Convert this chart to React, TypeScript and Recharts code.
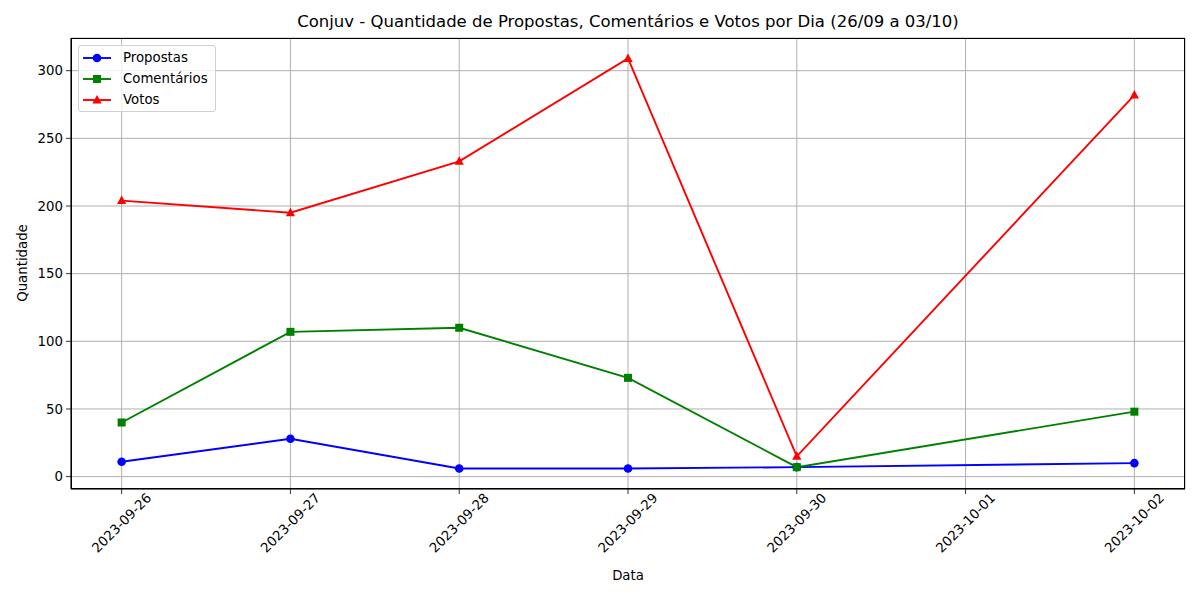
import React from 'react';
import { LineChart, Line, XAxis, YAxis, CartesianGrid } from 'recharts';

const dayLabels = ['2023-09-26', '2023-09-27', '2023-09-28', '2023-09-29', '2023-09-30', '2023-10-01', '2023-10-02'];
const dates = ['2023-09-26', '2023-09-27', '2023-09-28', '2023-09-29', '2023-09-30', '2023-10-02'];
const propostas = [11, 28, 6, 6, 7, 10];
const comentarios = [40, 107, 110, 73, 7, 48];
const votos = [204, 195, 233, 309, 15, 282];
const yTicks = [0, 50, 100, 150, 200, 250, 300];

const BLUE = '#0000ff';
const GREEN = '#008000';
const RED = '#ff0000';
const FONT = 'DejaVu Sans, sans-serif';
const LW = 1.9;

const dayIndex = (d: string) => {
  const base = Date.UTC(2023, 8, 26);
  const [y, m, dd] = d.split('-').map(Number);
  return Math.round((Date.UTC(y, m - 1, dd) - base) / 86400000);
};

const data = dates.map((d, i) => ({
  x: dayIndex(d),
  propostas: propostas[i],
  comentarios: comentarios[i],
  votos: votos[i],
}));

const Circle = (props: any) => {
  const { cx, cy } = props;
  if (cx == null || cy == null) return null;
  return <circle cx={cx} cy={cy} r={4.3} fill={BLUE} />;
};
const Square = (props: any) => {
  const { cx, cy } = props;
  if (cx == null || cy == null) return null;
  return <rect x={cx - 4} y={cy - 4} width={8} height={8} fill={GREEN} />;
};
const Triangle = (props: any) => {
  const { cx, cy } = props;
  if (cx == null || cy == null) return null;
  return <polygon points={`${cx},${cy - 5} ${cx + 4.6},${cy + 3.5} ${cx - 4.6},${cy + 3.5}`} fill={RED} />;
};

const XTick = (props: any) => {
  const { x, y, payload } = props;
  const cy = y + 27;
  return (
    <text
      x={x}
      y={cy}
      transform={`rotate(-45, ${x}, ${cy})`}
      textAnchor="middle"
      dominantBaseline="central"
      fontSize={13.3}
      fontFamily={FONT}
      fill="#000"
    >
      {dayLabels[payload.value]}
    </text>
  );
};

const legendItems = [
  { name: 'Propostas', color: BLUE, shape: 'circle' },
  { name: 'Comentários', color: GREEN, shape: 'square' },
  { name: 'Votos', color: RED, shape: 'triangle' },
];

const LegendBox = () => (
  <div
    style={{
      position: 'absolute',
      left: 78,
      top: 45,
      background: 'rgba(255,255,255,0.8)',
      border: '1px solid #d0d0d0',
      borderRadius: 3,
      padding: '1px 6px 1px 3px',
      fontFamily: FONT,
      fontSize: 13.3,
      width: 138,
      height: 67,
      boxSizing: 'border-box',
      textAlign: 'left',
      zIndex: 2,
    }}
  >
    {legendItems.map((it) => (
      <div key={it.name} style={{ display: 'flex', alignItems: 'center', height: 21 }}>
        <svg width={30} height={14} style={{ marginRight: 11, flex: 'none' }}>
          <line x1={1} y1={7} x2={29} y2={7} stroke={it.color} strokeWidth={LW} />
          {it.shape === 'circle' && <circle cx={15} cy={7} r={4.3} fill={it.color} />}
          {it.shape === 'square' && <rect x={11} y={3} width={8} height={8} fill={it.color} />}
          {it.shape === 'triangle' && <polygon points="15,2 19.6,10.5 10.4,10.5" fill={it.color} />}
        </svg>
        <span>{it.name}</span>
      </div>
    ))}
  </div>
);

export default function App() {
  return (
    <div style={{ position: 'absolute', left: 0, top: 0, width: 1200, height: 600, background: '#fff' }}>
      <div
        style={{
          position: 'absolute',
          left: 71,
          width: 1114,
          top: 12,
          textAlign: 'center',
          fontFamily: FONT,
          fontSize: 16.5,
          color: '#000',
        }}
      >
        Conjuv - Quantidade de Propostas, Comentários e Votos por Dia (26/09 a 03/10)
      </div>
      <div
        style={{
          position: 'absolute',
          left: 71,
          width: 1114,
          top: 568,
          textAlign: 'center',
          fontFamily: FONT,
          fontSize: 13.3,
          color: '#000',
        }}
      >
        Data
      </div>
      <div
        style={{
          position: 'absolute',
          left: 22,
          top: 263,
          transform: 'translate(-50%, -50%) rotate(-90deg)',
          fontFamily: FONT,
          fontSize: 13.3,
          color: '#000',
          whiteSpace: 'nowrap',
        }}
      >
        Quantidade
      </div>
      <LineChart width={1200} height={600} data={data} margin={{ top: 38, right: 15, bottom: 0, left: 0 }}>
        <CartesianGrid stroke="#b0b0b0" strokeWidth={1} />
        <XAxis
          dataKey="x"
          type="number"
          domain={[-0.3, 6.3]}
          ticks={[0, 1, 2, 3, 4, 5, 6]}
          allowDataOverflow
          height={111}
          tick={<XTick />}
          tickSize={5}
          tickLine={{ stroke: '#000', strokeWidth: 0.8 }}
          axisLine={{ stroke: '#000', strokeWidth: 1 }}
          interval={0}
        />
        <YAxis
          type="number"
          domain={[-9.15, 324.15]}
          ticks={yTicks}
          allowDataOverflow
          width={71}
          tickSize={5}
          tickMargin={3}
          tick={{ fontSize: 13.3, fontFamily: FONT, fill: '#000' }}
          tickLine={{ stroke: '#000', strokeWidth: 0.8 }}
          axisLine={{ stroke: '#000', strokeWidth: 1 }}
          interval={0}
        />
        <Line dataKey="propostas" name="Propostas" stroke={BLUE} strokeWidth={LW} dot={<Circle />} activeDot={false} isAnimationActive={false} />
        <Line dataKey="comentarios" name="Comentários" stroke={GREEN} strokeWidth={LW} dot={<Square />} activeDot={false} isAnimationActive={false} />
        <Line dataKey="votos" name="Votos" stroke={RED} strokeWidth={LW} dot={<Triangle />} activeDot={false} isAnimationActive={false} />
      </LineChart>
      <div
        style={{
          position: 'absolute',
          left: 71,
          top: 38,
          width: 1114,
          height: 451,
          border: '1px solid #000',
          boxSizing: 'border-box',
          pointerEvents: 'none',
          marginLeft: -0.5,
          marginTop: -0.5,
        }}
      />
      <LegendBox />
    </div>
  );
}
